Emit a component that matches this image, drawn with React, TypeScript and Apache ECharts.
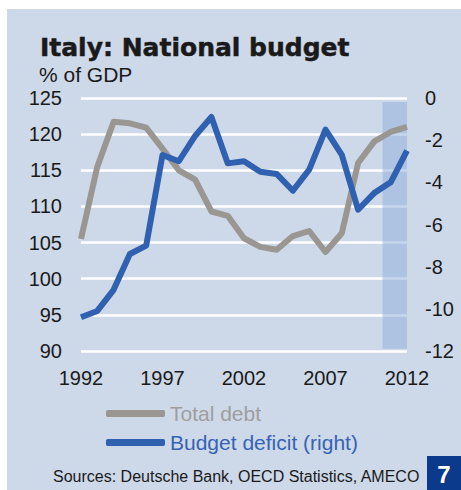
import React, { useEffect, useRef } from "react";
import * as echarts from "echarts";

const years = [1992,1993,1994,1995,1996,1997,1998,1999,2000,2001,2002,2003,2004,2005,2006,2007,2008,2009,2010,2011,2012];
const totalDebt = [105.5,115.5,121.7,121.5,120.9,118.0,115.0,113.7,109.3,108.7,105.6,104.4,104.0,105.9,106.6,103.7,106.3,116.0,119.0,120.3,121.0];
const budgetDeficit = [-10.4,-10.1,-9.1,-7.4,-7.0,-2.7,-3.0,-1.8,-0.9,-3.1,-3.0,-3.5,-3.6,-4.4,-3.4,-1.5,-2.7,-5.3,-4.5,-4.0,-2.5];
const forecastStart = 2010.5;
const forecastEnd = 2012.2;
const leftTicks = { min: 90, max: 125, interval: 5 };
const rightTicks = { min: -12, max: 0, interval: 2 };
const xTicks = { min: 1992, max: 2012, interval: 5 };

const FONT = "'Liberation Sans', Arial, sans-serif";
const TITLE_FONT = "'DejaVu Sans', 'Liberation Sans', sans-serif";

export default function App() {
  const ref = useRef<HTMLDivElement>(null);
  useEffect(() => {
    const chart = echarts.init(ref.current!, null, { renderer: "svg" });
    chart.setOption({
      animation: false,
      backgroundColor: "#ffffff",
      textStyle: { fontFamily: FONT },
      grid: { left: 81, right: 54, top: 98, bottom: 139, containLabel: false },
      graphic: [
        { type: "rect", z: -100, shape: { x: 7, y: 9, width: 454, height: 481 }, style: { fill: "#cdd8e9" } },
        { type: "text", style: { text: "Italy: National budget", x: 40, y: 47, fill: "#1a1a1a", font: "bold 25px " + TITLE_FONT, textVerticalAlign: "middle", stroke: "#1a1a1a", lineWidth: 0.5 } },
        { type: "text", style: { text: "% of GDP", x: 39, y: 74, fill: "#1a1a1a", font: "21px " + FONT, textVerticalAlign: "middle" } },
        { type: "text", style: { text: "Sources: Deutsche Bank, OECD Statistics, AMECO", x: 53, y: 476, fill: "#1a1a1a", font: "16px " + FONT, textVerticalAlign: "middle" } },
        { type: "rect", shape: { x: 427, y: 456, width: 34, height: 34 }, style: { fill: "#0b3a8c" } },
        { type: "text", style: { text: "7", x: 444, y: 474, fill: "#ffffff", font: "bold 24px " + FONT, textAlign: "center", textVerticalAlign: "middle" } },
      ],
      legend: {
        orient: "vertical",
        left: 101,
        top: 398,
        itemWidth: 59,
        itemHeight: 7,
        itemGap: 8,
        icon: "roundRect",
        data: [
          { name: "Total debt", textStyle: { color: "#9e9e9e" } },
          { name: "Budget deficit (right)", textStyle: { color: "#3763b3" } },
        ],
        textStyle: { fontSize: 21, fontFamily: FONT },
      },
      xAxis: {
        type: "value",
        min: xTicks.min,
        max: xTicks.max,
        interval: xTicks.interval,
        axisLine: { show: false },
        axisTick: { show: false },
        splitLine: { show: false },
        axisLabel: { fontSize: 20, color: "#1a1a1a", margin: 17, formatter: (v: number) => String(v) },
      },
      yAxis: [
        {
          type: "value",
          position: "left",
          min: leftTicks.min,
          max: leftTicks.max,
          interval: leftTicks.interval,
          axisLine: { show: false },
          axisTick: { show: false },
          splitLine: { show: true, lineStyle: { color: "#ffffff", width: 2.5 } },
          axisLabel: { fontSize: 20, color: "#1a1a1a", margin: 19 },
        },
        {
          type: "value",
          position: "right",
          min: rightTicks.min,
          max: rightTicks.max,
          interval: rightTicks.interval,
          axisLine: { show: false },
          axisTick: { show: false },
          splitLine: { show: false },
          axisLabel: { fontSize: 20, color: "#1a1a1a", margin: 18 },
        },
      ],
      series: [
        {
          name: "Total debt",
          type: "line",
          yAxisIndex: 0,
          symbol: "none",
          clip: false,
          color: "#9a9793",
          lineStyle: { width: 6, color: "#9a9793", join: "round" },
          data: years.map((y, i) => [y, totalDebt[i]]),
          markArea: {
            silent: true,
            itemStyle: { color: "rgba(150,178,220,0.55)" },
            data: [[{ coord: [forecastStart, 124.45] }, { coord: [forecastEnd, 90.3] }]],
          },
        },
        {
          name: "Budget deficit (right)",
          type: "line",
          yAxisIndex: 1,
          symbol: "none",
          clip: false,
          color: "#3061b0",
          lineStyle: { width: 6, color: "#3061b0", join: "round" },
          data: years.map((y, i) => [y, budgetDeficit[i]]),
        },
      ],
    });
    return () => chart.dispose();
  }, []);
  return <div ref={ref} style={{ position: "absolute", left: 0, top: 0, width: 461, height: 490 }} />;
}
